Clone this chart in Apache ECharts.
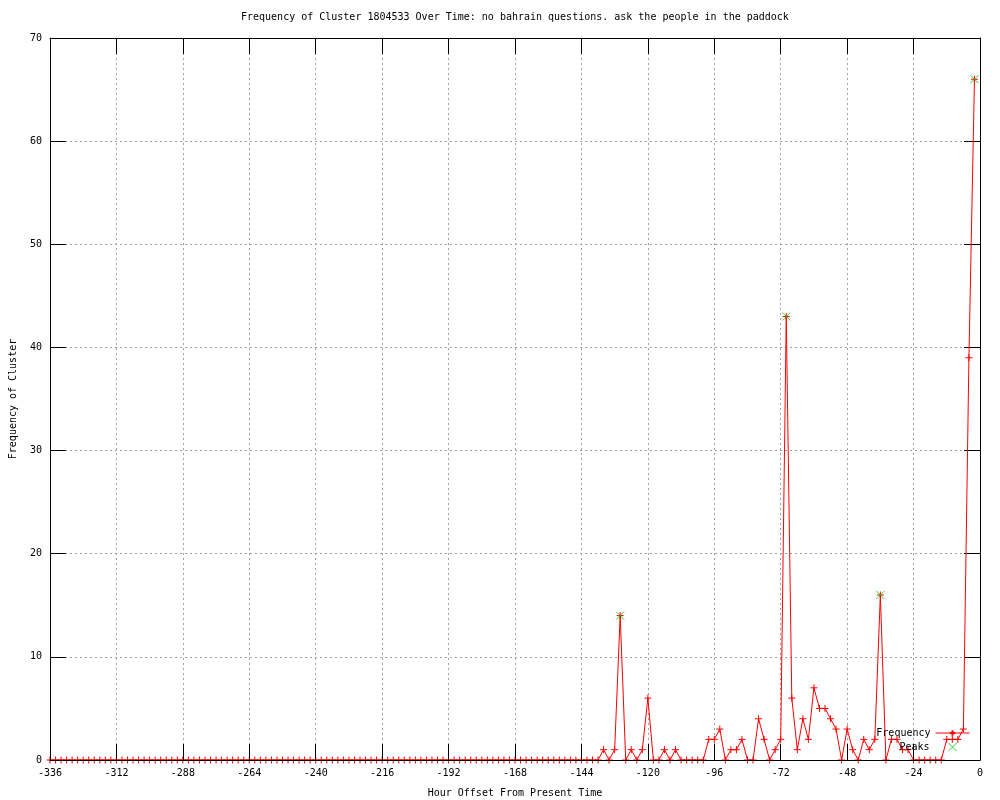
<!DOCTYPE html>
<html><head><meta charset="utf-8">
<script src="https://cdn.jsdelivr.net/npm/echarts@6/dist/echarts.min.js"></script>
<style>html,body{margin:0;padding:0;background:#fff}#c{width:1000px;height:800px}</style>
</head><body><div id="c"></div>
<script>
const titleText = 'Frequency of Cluster 1804533 Over Time: no bahrain questions. ask the people in the paddock';
const xName = 'Hour Offset From Present Time';
const yName = 'Frequency of Cluster';
const startHour = -336;
const stepHours = 2;
// one value every 2 hours, from -336 to -2
const frequency = [
  0,0,0,0,0,0,0,0,0,0,0,0,
  0,0,0,0,0,0,0,0,0,0,0,0,
  0,0,0,0,0,0,0,0,0,0,0,0,
  0,0,0,0,0,0,0,0,0,0,0,0,
  0,0,0,0,0,0,0,0,0,0,0,0,
  0,0,0,0,0,0,0,0,0,0,0,0,
  0,0,0,0,0,0,0,0,0,0,0,0,
  0,0,0,0,0,0,0,0,0,0,0,0,
  0,0,0,0,1,0,1,14,0,1,0,1,
  6,0,0,1,0,1,0,0,0,0,0,2,
  2,3,0,1,1,2,0,0,4,2,0,1,
  2,43,6,1,4,2,7,5,5,4,3,0,
  3,1,0,2,1,2,16,0,2,2,1,1,
  0,0,0,0,0,0,2,2,2,3,39,66
];
const peakHours = [-130, -70, -36, -2];
const peakValues = [14, 43, 16, 66];
const xMin = -336, xMax = 0, xStep = 24;
const yMin = 0, yMax = 70, yStep = 10;

const freqData = frequency.map((v, i) => [startHour + i * stepHours, v]);
const peakData = peakHours.map((h, i) => [h, peakValues[i]]);

const FONT = 'DejaVu Sans Mono';
const plusSym = 'path://M0,5L10,5M5,0L5,10';
const crossSym = 'path://M0,0L10,10M10,0L0,10';
const RED = '#ff0000', GREEN = '#00c000';
const txt = {fontFamily: FONT, fontSize: 10, color: '#000'};
const grid = {left: 50, right: 20, top: 38, bottom: 40, outerBoundsMode: 'none', containLabel: false};

function xAx(main) {
  return {
    type: 'value', min: xMin, max: xMax, interval: xStep,
    position: main ? 'bottom' : 'top', z: main ? 5 : 0,
    name: main ? xName : '', nameLocation: 'middle', nameGap: 28,
    nameTextStyle: txt,
    axisLine: {show: true, onZero: false, lineStyle: {color: '#000', width: 1}},
    axisTick: {show: true, inside: true, length: 16, lineStyle: {color: '#000'}},
    axisLabel: {show: main, margin: 8, ...txt},
    splitLine: {show: !main, lineStyle: {color: '#a0a0a0', type: [2, 3], width: 1}}
  };
}
function yAx(main) {
  return {
    type: 'value', min: yMin, max: yMax, interval: yStep,
    position: main ? 'left' : 'right', z: main ? 5 : 0,
    name: main ? yName : '', nameLocation: 'middle', nameGap: 32,
    nameTextStyle: txt,
    axisLine: {show: true, onZero: false, lineStyle: {color: '#000', width: 1}},
    axisTick: {show: true, inside: true, length: 16, lineStyle: {color: '#000'}},
    axisLabel: {show: main, margin: 8, ...txt},
    splitLine: {show: !main, lineStyle: {color: '#a0a0a0', type: [2, 3], width: 1}}
  };
}

const chart = echarts.init(document.getElementById('c'), null, {renderer: 'canvas'});
chart.setOption({
  animation: false,
  backgroundColor: '#fff',
  title: {text: titleText, left: 241, top: 12, padding: 0,
    textStyle: {fontFamily: FONT, fontSize: 10, fontWeight: 'normal', color: '#000'}},
  grid: grid,
  xAxis: [xAx(true), xAx(false)],
  yAxis: [yAx(true), yAx(false)],
  legend: [
    {data: ['Frequency'], orient: 'vertical', align: 'right', right: 30, top: 728,
     padding: 0, itemGap: 0, itemWidth: 34, itemHeight: 7, textStyle: txt,
     lineStyle: {width: 1}},
    {data: ['Peaks'], orient: 'vertical', align: 'right', right: 43, top: 742,
     padding: 0, itemGap: 0, itemWidth: 8, itemHeight: 8,
     itemStyle: {borderWidth: 1},
     textStyle: {...txt, padding: [0, 14, 0, 0]}}
  ],
  series: [
    {name: 'Frequency', type: 'line', data: freqData, xAxisIndex: 0, yAxisIndex: 0,
     symbol: plusSym, symbolSize: 7, showAllSymbol: true,
     lineStyle: {color: RED, width: 1},
     itemStyle: {color: RED, borderColor: RED, borderWidth: 1},
     z: 2},
    {name: 'Peaks', type: 'scatter', data: peakData, xAxisIndex: 0, yAxisIndex: 0,
     symbol: crossSym, symbolSize: 8,
     itemStyle: {color: GREEN, borderColor: GREEN, borderWidth: 1},
     z: 3}
  ]
});
</script>
</body></html>
